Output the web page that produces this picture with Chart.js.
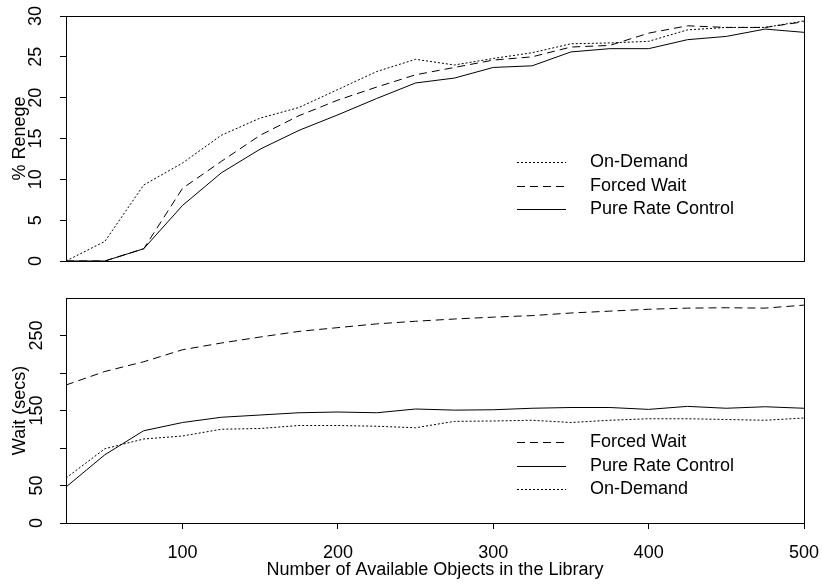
<!DOCTYPE html>
<html>
<head>
<meta charset="utf-8">
<script src="https://cdn.jsdelivr.net/npm/chart.js@4.4.0/dist/chart.umd.min.js"></script>
<style>
  body { margin: 0; background: #fff; }
  #wrap { position: relative; width: 822px; height: 585px; }
  .panel { position: absolute; left: 0; width: 822px; }
  #top { top: 0; height: 280px; }
  #bottom { top: 280px; height: 305px; }
</style>
</head>
<body>
<div id="wrap">
  <div class="panel" id="top"><canvas id="renege-chart"></canvas></div>
  <div class="panel" id="bottom"><canvas id="wait-chart"></canvas></div>
</div>
<script>
// number of objects in the library (x axis)
const libSize = [25, 50, 75, 100, 125, 150, 175, 200, 225, 250, 275, 300, 325, 350, 375, 400, 425, 450, 475, 500];

// % renege
const renegeOnDemand   = [0, 2.4, 9.3, 12.0, 15.4, 17.5, 18.8, 21.0, 23.2, 24.7, 24.0, 24.8, 25.5, 26.6, 26.7, 26.9, 28.3, 28.6, 28.6, 29.4];
const renegeForcedWait = [0, 0, 1.5, 8.9, 12.2, 15.4, 17.8, 19.7, 21.3, 22.8, 23.7, 24.6, 25.0, 26.2, 26.4, 27.9, 28.8, 28.6, 28.6, 29.3];
const renegePureRate   = [0, 0, 1.5, 6.8, 10.8, 13.7, 16.0, 17.9, 19.9, 21.8, 22.4, 23.7, 23.9, 25.6, 26.0, 26.0, 27.1, 27.5, 28.4, 28.0];

// wait in seconds
const waitForcedWait = [184, 202, 215, 231, 240, 248, 255.5, 260.5, 265.5, 269, 272, 274.5, 276.5, 280, 282.5, 285, 286.5, 287, 286.5, 290.5];
const waitPureRate   = [48, 91, 123, 134, 141, 144, 147, 148, 147, 152, 150.5, 151, 153, 154, 154, 151.5, 155.5, 153, 155, 153];
const waitOnDemand   = [60, 99, 112, 116, 125, 126, 130, 130, 129, 127, 135.5, 136, 137, 134, 137, 139, 139, 138, 137, 140];

// ticks
const xTicks = [100, 200, 300, 400, 500];
const renegeTicks = [0, 5, 10, 15, 20, 25, 30];
const waitTicks = [0, 50, 100, 150, 200, 250];
const waitTickLabels = [0, 50, 150, 250];

const FONT = "'Liberation Sans', Arial, Helvetica, sans-serif";
Chart.defaults.font.family = FONT;
Chart.defaults.font.size = 18;
Chart.defaults.color = '#000';

const DOTTED = [2, 2];
const DASHED = [8, 5];

function points(ys) {
    return libSize.map((x, i) => ({x: x, y: ys[i]}));
}

function series(label, ys, dash) {
    return {
        label: label,
        data: points(ys),
        borderColor: '#000',
        borderWidth: 1,
        borderDash: dash,
        pointRadius: 0,
        tension: 0,
        fill: false
    };
}

// the scales ask for extra room for their end labels; the plot box is fixed instead
function noEdgePadding(s) {
    s.paddingTop = 0;
    s.paddingBottom = 0;
    s.paddingLeft = 0;
    s.paddingRight = 0;
}

// full frame round the plot area
const boxPlugin = {
    id: 'box',
    afterDraw(chart) {
        const {ctx, chartArea: a} = chart;
        ctx.save();
        ctx.strokeStyle = '#000';
        ctx.lineWidth = 1;
        ctx.strokeRect(Math.round(a.left) + 0.5, Math.round(a.top) + 0.5,
                       Math.round(a.right - a.left), Math.round(a.bottom - a.top));
        ctx.restore();
    }
};

// legend drawn inside the plot, like the original
const innerLegend = {
    id: 'innerLegend',
    afterDraw(chart) {
        const ctx = chart.ctx;
        ctx.save();
        ctx.font = '18px ' + FONT;
        ctx.fillStyle = '#000';
        ctx.textBaseline = 'middle';
        chart.data.datasets.forEach((ds, i) => {
            const y = Math.round(162 + i * 23.7) + 0.5;
            ctx.setLineDash(ds.borderDash || []);
            ctx.strokeStyle = '#000';
            ctx.lineWidth = 1;
            ctx.beginPath();
            ctx.moveTo(517, y);
            ctx.lineTo(566, y);
            ctx.stroke();
            ctx.setLineDash([]);
            ctx.fillText(ds.label, 590, y);
        });
        ctx.restore();
    }
};

const axisGrid = {drawOnChartArea: false, tickLength: 6, color: '#000'};

new Chart(document.getElementById('renege-chart'), {
    type: 'line',
    data: {
        datasets: [
            series('On-Demand', renegeOnDemand, DOTTED),
            series('Forced Wait', renegeForcedWait, DASHED),
            series('Pure Rate Control', renegePureRate, [])
        ]
    },
    options: {
        animation: false,
        maintainAspectRatio: false,
        layout: {padding: {left: 0, right: 18, top: 16, bottom: 19}},
        plugins: {legend: {display: false}, tooltip: {enabled: false}},
        scales: {
            x: {type: 'linear', min: 25, max: 500, display: false},
            y: {
                min: 0, max: 30,
                afterBuildTicks: s => { s.ticks = renegeTicks.map(v => ({value: v})); },
                afterFit: s => { s.width = 66; noEdgePadding(s); },
                ticks: {minRotation: 90, maxRotation: 90, crossAlign: 'center', padding: 14},
                grid: axisGrid,
                border: {color: '#000'},
                title: {display: true, text: '% Renege', padding: {top: 9, bottom: 0}}
            }
        }
    },
    plugins: [boxPlugin, innerLegend]
});

new Chart(document.getElementById('wait-chart'), {
    type: 'line',
    data: {
        datasets: [
            series('Forced Wait', waitForcedWait, DASHED),
            series('Pure Rate Control', waitPureRate, []),
            series('On-Demand', waitOnDemand, DOTTED)
        ]
    },
    options: {
        animation: false,
        maintainAspectRatio: false,
        layout: {padding: {left: 0, right: 18, top: 18, bottom: 0}},
        plugins: {legend: {display: false}, tooltip: {enabled: false}},
        scales: {
            x: {
                type: 'linear', min: 25, max: 500,
                afterBuildTicks: s => { s.ticks = xTicks.map(v => ({value: v})); },
                afterFit: s => { s.height = 62; noEdgePadding(s); },
                ticks: {minRotation: 0, maxRotation: 0, padding: 13},
                grid: axisGrid,
                border: {color: '#000'},
                title: {display: true, text: 'Number of Available Objects in the Library', padding: {top: 0, bottom: 4}}
            },
            y: {
                min: 0, max: 300,
                afterBuildTicks: s => { s.ticks = waitTicks.map(v => ({value: v})); },
                afterFit: s => { s.width = 66; noEdgePadding(s); },
                ticks: {
                    minRotation: 90, maxRotation: 90, crossAlign: 'center', padding: 8,
                    callback: v => waitTickLabels.includes(v) ? String(v) : ''
                },
                grid: axisGrid,
                border: {color: '#000'},
                title: {display: true, text: 'Wait (secs)', padding: {top: 9, bottom: 0}}
            }
        }
    },
    plugins: [boxPlugin, innerLegend]
});
</script>
</body>
</html>
